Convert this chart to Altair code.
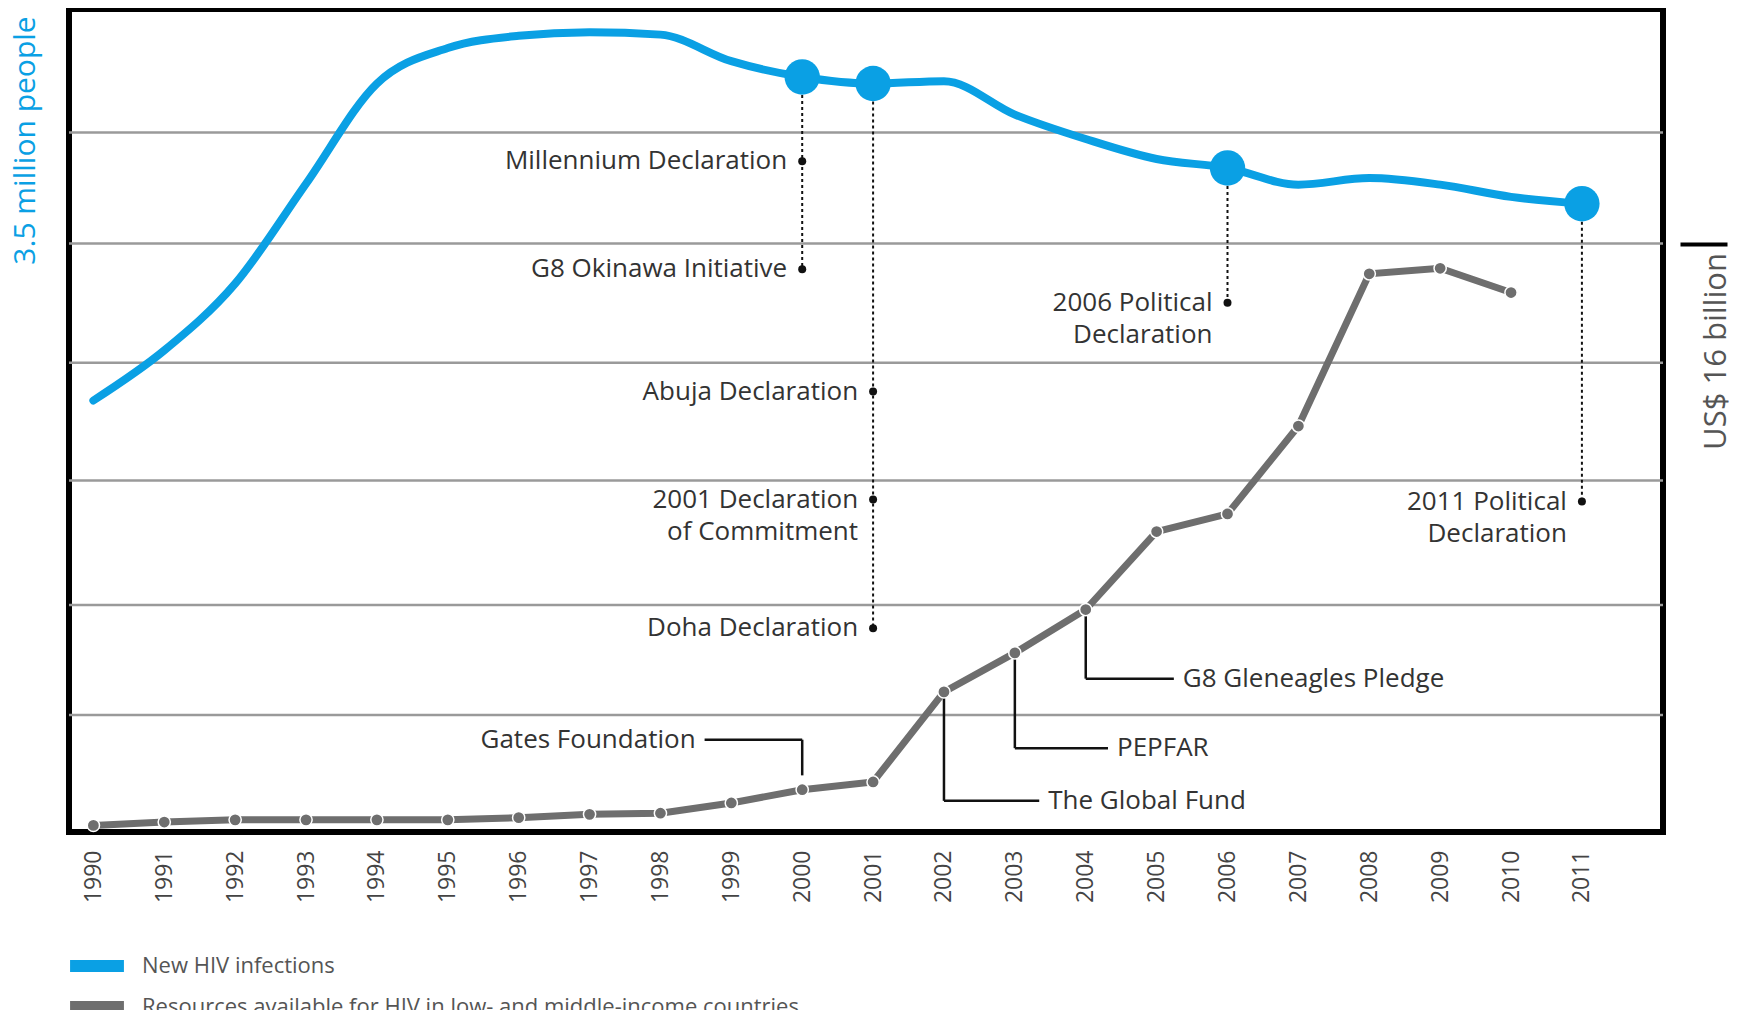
import altair as alt
import pandas as pd

# ---------------- data ----------------
years = list(range(1990, 2012))
infections = [1.835, 2.048, 2.332, 2.757, 3.183, 3.334, 3.386, 3.401, 3.391, 3.278,
              3.211, 3.183, 3.193, 3.051, 2.947, 2.862, 2.824, 2.753, 2.781, 2.753,
              2.701, 2.672]  # million people

res_years = list(range(1990, 2011))
resources = [0.18, 0.27, 0.33, 0.33, 0.33, 0.33, 0.39, 0.48, 0.51, 0.79,
             1.15, 1.36, 3.81, 4.87, 6.05, 8.17, 8.65, 11.04, 15.18, 15.33,
             14.67]  # US$ billion

series_names = ["New HIV infections",
                "Resources available for HIV in low- and middle-income countries"]

milestone_years = [2000, 2001, 2006, 2011]

decl_years = [2000, 2000, 2001, 2001, 2001, 2006, 2011]
decl_labels = ["Millennium Declaration", "G8 Okinawa Initiative", "Abuja Declaration",
               "2001 Declaration\nof Commitment", "Doha Declaration",
               "2006 Political\nDeclaration", "2011 Political\nDeclaration"]
decl_levels = [2.852, 2.393, 1.873, 1.414, 0.866, 2.251, 1.405]  # on the infections scale

fund_labels = ["Gates Foundation", "The Global Fund", "PEPFAR", "G8 Gleneagles Pledge"]
fund_years = [2000, 2002, 2003, 2004]
fund_from = [1.54, 3.81, 4.87, 6.05]      # US$ billion
fund_bend = [2.51, 0.847, 2.28, 4.17]     # US$ billion
fund_end = [1998.623, 2003.344, 2004.314, 2005.243]

grid_levels = [3.18, 6.17, 9.56, 12.76, 16.0, 19.02]  # US$ billion

# ---------------- styling ----------------
BLUE = "#0AA0E4"
GRAY = "#6E6E6E"
TEXT = "#333333"
FONT = "Open Sans"

xscale = alt.Scale(domain=[1989.656, 2012.144], nice=False, zero=False)
inf_scale = alt.Scale(domain=[0, 3.5], nice=False, zero=False)
res_scale = alt.Scale(domain=[0, 22.38], nice=False, zero=False)

xaxis = alt.Axis(values=years, format="d", labelAngle=270, labelAlign="right",
                 labelBaseline="middle", labelFontSize=23, labelColor="#444444",
                 labelFont=FONT, labelPadding=18, ticks=False, domain=False,
                 grid=False, title=None, labelOverlap=False, labelFlush=False)

res_axis = alt.Axis(orient="right", values=[16], labels=False, ticks=True, tickSize=47,
                    tickWidth=4, tickColor="black", domain=False, grid=False, offset=17,
                    title="US$ 16 billion", titleAngle=270, titleX=36, titleY=342,
                    titleAlign="center", titleBaseline="middle", titleFontSize=31,
                    titleColor="#555555", titleFontWeight="normal", titleFont=FONT)

inf_axis = alt.Axis(orient="left", labels=False, ticks=False, domain=False, grid=False,
                    title="3.5 million people", titleAngle=270, titleAlign="center",
                    titleBaseline="middle", titleX=-44, titleY=131, titleFontSize=30,
                    titleColor=BLUE, titleFontWeight="normal", titleFont=FONT)


def X(field):
    return alt.X(field, scale=xscale, axis=xaxis)


def YR(field):
    return alt.Y(field, scale=res_scale, axis=res_axis)


def YI(field):
    return alt.Y(field, scale=inf_scale, axis=inf_axis)


color = alt.Color("series:N",
                  scale=alt.Scale(domain=series_names, range=[BLUE, GRAY]),
                  legend=alt.Legend(orient="none", legendX=-5, legendY=942, title=None,
                                    symbolType="stroke", symbolStrokeWidth=12,
                                    symbolSize=2900, clipHeight=30, labelFontSize=22,
                                    labelColor="#555555", labelFont=FONT,
                                    labelLimit=1400, rowPadding=11, labelOffset=12,
                                    direction="vertical"))

# ---------------- tables ----------------
df_inf = pd.DataFrame({"year": years, "value": infections, "series": series_names[0]})
df_circ = df_inf[df_inf["year"].isin(milestone_years)]

drop_rows = []
for y in milestone_years:
    top = infections[years.index(y)]
    bottom = min(l for yy, l in zip(decl_years, decl_levels) if yy == y)
    drop_rows.append({"year": y, "value": top, "bottom": bottom})
df_drop = pd.DataFrame(drop_rows)

df_decl = pd.DataFrame({"year": decl_years, "value": decl_levels, "label": decl_labels})

df_res = pd.DataFrame({"year": res_years, "value": resources, "series": series_names[1]})
df_grid = pd.DataFrame({"value": grid_levels})

seg_rows = []
for yr, f, b, e in zip(fund_years, fund_from, fund_bend, fund_end):
    seg_rows.append({"year": yr, "x2": yr, "value": f, "y2": b})
    seg_rows.append({"year": yr, "x2": e, "value": b, "y2": b})
df_seg = pd.DataFrame(seg_rows)
df_fund = pd.DataFrame({"year": fund_end, "value": fund_bend, "label": fund_labels})

# ---------------- resources layer (right scale) ----------------
grid = alt.Chart(df_grid).mark_rule(color="#9A9A9A", strokeWidth=2.5).encode(
    y=YR("value:Q"))

connectors = alt.Chart(df_seg).mark_rule(color="#111111", strokeWidth=2.5).encode(
    x=X("year:Q"), x2="x2:Q", y=YR("value:Q"), y2="y2:Q")

res_line = alt.Chart(df_res).mark_line(strokeWidth=7).encode(
    x=X("year:Q"), y=YR("value:Q"), color=color)

res_pts = alt.Chart(df_res).mark_point(filled=True, size=150, opacity=1, color=GRAY,
                                       stroke="white", strokeWidth=1.5).encode(
    x=X("year:Q"), y=YR("value:Q"))

fund_text_left = alt.Chart(df_fund[df_fund["label"] == "Gates Foundation"]).mark_text(
    align="right", baseline="alphabetic", dx=-9, dy=8, fontSize=26, font=FONT,
    color=TEXT).encode(x=X("year:Q"), y=YR("value:Q"), text="label:N")

fund_text_right = alt.Chart(df_fund[df_fund["label"] != "Gates Foundation"]).mark_text(
    align="left", baseline="alphabetic", dx=9, dy=8, fontSize=26, font=FONT,
    color=TEXT).encode(x=X("year:Q"), y=YR("value:Q"), text="label:N")

res_layer = alt.layer(grid, connectors, res_line, res_pts, fund_text_left, fund_text_right)

# ---------------- infections layer (left scale) ----------------
drops = alt.Chart(df_drop).mark_rule(color="#111111", strokeWidth=2,
                                     strokeDash=[3, 3]).encode(
    x=X("year:Q"), y=YI("value:Q"), y2="bottom:Q")

inf_line = alt.Chart(df_inf).mark_line(strokeWidth=8, interpolate="monotone",
                                       strokeCap="round").encode(
    x=X("year:Q"), y=YI("value:Q"), color=color)

inf_circ = alt.Chart(df_circ).mark_point(filled=True, size=1250, opacity=1,
                                         color=BLUE).encode(
    x=X("year:Q"), y=YI("value:Q"))

decl_dots = alt.Chart(df_decl).mark_point(filled=True, size=64, opacity=1,
                                          color="#111111").encode(
    x=X("year:Q"), y=YI("value:Q"))

decl_text = alt.Chart(df_decl).mark_text(
    align="right", baseline="alphabetic", dx=-15, dy=8, fontSize=26, font=FONT,
    color=TEXT, lineBreak="\n", lineHeight=32).encode(
    x=X("year:Q"), y=YI("value:Q"), text="label:N")

inf_layer = alt.layer(drops, inf_line, inf_circ, decl_dots, decl_text)

chart = alt.layer(res_layer, inf_layer).resolve_scale(y="independent").properties(
    width=1594, height=823,
    autosize=alt.AutoSizeParams(type="none"),
    padding={"left": 61, "top": 1, "right": 69, "bottom": 178},
    background="white",
).configure(font=FONT).configure_view(stroke="black", strokeWidth=6)

chart.save("out.html", embed_options={"renderer": "svg", "actions": False})
